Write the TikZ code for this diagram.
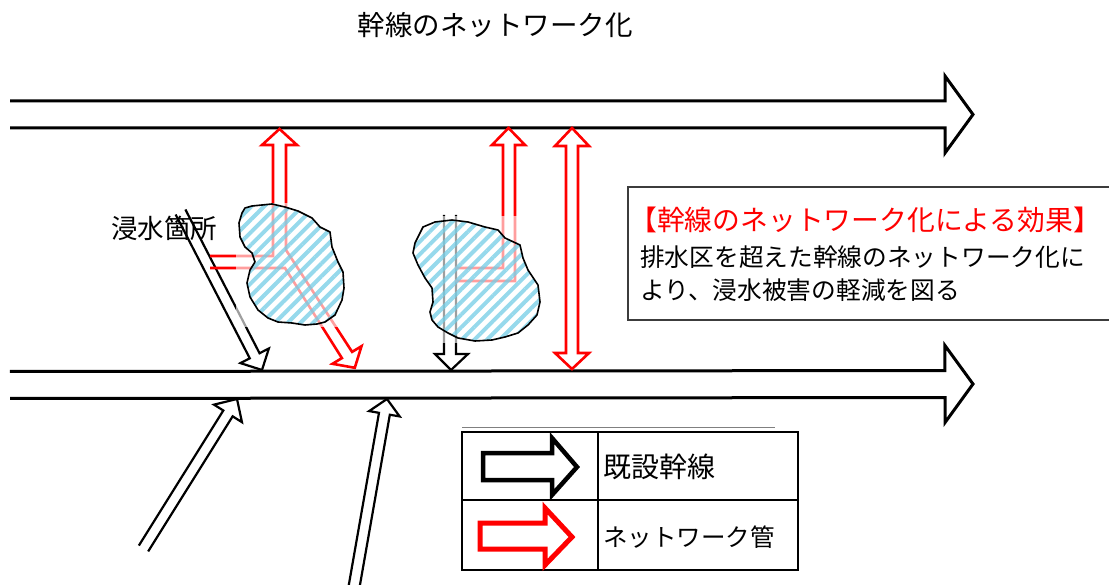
\documentclass[tikz,border=0pt]{standalone}
\usepackage{fontspec}
\newfontfamily\jp{Noto Sans CJK JP}
\usetikzlibrary{calc,patterns.meta}
\definecolor{hatch}{RGB}{115,205,230}
\definecolor{boxgray}{RGB}{60,60,60}
\newcommand{\blockarrow}[6][]{%
  \coordinate (bb) at ($(#3)!#6!(#2)$);
  \draw[#1] ($(#2)!#4!90:(#3)$) -- ($(bb)!#4!90:(#3)$) -- ($(bb)!#5!90:(#3)$) -- (#3)
    -- ($(bb)!#5!-90:(#3)$) -- ($(bb)!#4!-90:(#3)$) -- ($(#2)!#4!-90:(#3)$);
}
\tikzset{
  trunk/.style={draw=black, line width=3pt, line join=miter},
  netpipe/.style={draw=red, line width=2.6pt, line join=miter},
  flowarrow/.style={draw=black, line width=2.2pt, line join=miter},
  fadebox/.style={fill=white, fill opacity=0.62, draw=none},
  floodfill/.style={pattern={Lines[angle=45,distance=9pt,line width=4pt]}, pattern color=hatch, opacity=0.75},
  floodline/.style={draw=black, line width=1.6pt, line join=round},
  grid/.style={draw=black, line width=2.5pt},
  label/.style={font=\jp, inner sep=0pt},
}
\begin{document}
\begin{tikzpicture}[x=1pt,y=-1pt]
\useasboundingbox (0,0) rectangle (1109,585);

% title
\node[label, font=\jp\fontsize{27.5}{30}\selectfont] (title) at (495,25) {幹線のネットワーク化};

% trunk lines
\coordinate (t1tail) at (10,114.5); \coordinate (t1tip) at (973,114.5);
\coordinate (t2tail) at (10,385);   \coordinate (t2tip) at (973,384);
\blockarrow[trunk]{t1tail}{t1tip}{13.5pt}{38.5pt}{28pt}
\blockarrow[trunk]{t2tail}{t2tip}{13.5pt}{38.5pt}{28pt}

% incoming arrows from below
\coordinate (aTail) at (143.5,548.5); \coordinate (aTip) at (237,399);
\coordinate (bTail) at (353.5,590);   \coordinate (bTip) at (387,399);
\blockarrow[flowarrow]{aTail}{aTip}{5.5pt}{16.5pt}{17pt}
\blockarrow[flowarrow]{bTail}{bTip}{5.5pt}{15.5pt}{15pt}

% flooded-point arrow
\coordinate (dTail) at (180.5,212); \coordinate (dTip) at (262,370);
\blockarrow[flowarrow]{dTail}{dTip}{5.5pt}{16pt}{16pt}

% black pipe under second flood
\coordinate (pTip) at (451,370);
\draw[flowarrow] (444,215) -- (444,354) -- (435,354) -- (pTip) -- (468,354) -- (456,354) -- (456,215);

% red network pipes
\coordinate (n1top) at (279.5,129);
\coordinate (n1tip) at (354.8,367.8);
\draw[netpipe] (210,256) -- (273,256) -- (273,145) -- (262,145) -- (n1top) -- (297,145) -- (286,145)
  -- (286,250) -- (352.1,351.9) -- (361.5,346.2) -- (n1tip) -- (332.5,363.8) -- (341.9,358.1)
  -- (285,268) -- (210,268);
\coordinate (n2top) at (508.5,128);
\draw[netpipe] (455,268) -- (503,268) -- (503,145) -- (492,145) -- (n2top) -- (525,145) -- (515,145)
  -- (515,281) -- (455,281);
\coordinate (n3top) at (572,128); \coordinate (n3bot) at (572,369);
\draw[netpipe] (566,146) -- (555,146) -- (n3top) -- (589,146) -- (578,146) -- (578,353)
  -- (589,353) -- (n3bot) -- (555,353) -- (566,353) -- cycle;

% flooded areas
\def\blobone{(245,208) -- (252,206) -- (262,205) -- (272,204) -- (285,207) -- (298,211) -- (312,218)
  -- (320,227) -- (330,232) -- (332,247) -- (338,262) -- (343,272) -- (344,288) -- (342,300)
  -- (335,315) -- (325,322) -- (317,324) -- (305,325) -- (292,323) -- (278,322) -- (268,318)
  -- (258,310) -- (250,297) -- (247,283) -- (250,270) -- (255,262) -- (252,253) -- (245,247)
  -- (240,237) -- (239,223) -- (242,213) -- cycle}
\def\blobtwo{(423,227) -- (435,222) -- (452,220) -- (468,222) -- (485,227) -- (498,230) -- (505,238)
  -- (520,245) -- (523,258) -- (528,270) -- (538,285) -- (540,302) -- (537,315) -- (528,325)
  -- (518,333) -- (505,337) -- (492,340) -- (475,341) -- (458,338) -- (448,333) -- (438,327)
  -- (432,320) -- (430,312) -- (433,302) -- (432,288) -- (425,278) -- (418,265) -- (413,253)
  -- (415,243) -- (420,233) -- cycle}
\fill[fadebox] (236,203) rectangle (345,327);
\fill[fadebox] (415,216) rectangle (540,343);
\path[floodfill] \blobone;
\path[floodfill] \blobtwo;
\draw[floodline] \blobone;
\draw[floodline] \blobtwo;

\node[label, anchor=west, font=\jp\fontsize{26.5}{28}\selectfont] (flood) at (111,228) {浸水箇所};

% effect box
\draw[boxgray, line width=1.2pt] (1109,187) -- (628,187) -- (628,320) -- (1109,320);
\node[label, anchor=west, text=red, font=\jp\fontsize{27.8}{30}\selectfont] (effhead) at (629,220) {【幹線のネットワーク化による効果】};
\node[label, anchor=west, font=\jp\fontsize{24.7}{28}\selectfont] (eff1) at (640,257) {排水区を超えた幹線のネットワーク化に};
\node[label, anchor=west, font=\jp\fontsize{24.7}{28}\selectfont] (eff2) at (640,290) {より、浸水被害の軽減を図る};

% legend
\draw[gray, line width=0.8pt] (462,427) -- (775,427);
\draw[grid] (462,432) rectangle (798,570);
\draw[grid] (462,500) -- (798,500);
\draw[grid] (598,432) -- (598,570);
\draw[black, line width=4.5pt, line join=miter] (483,453) -- (552,453) -- (552,438) -- (577,467) -- (552,495) -- (552,480) -- (483,480) -- cycle;
\draw[red, line width=5pt, line join=miter] (480,523) -- (545,523) -- (545,508) -- (572,537) -- (545,565) -- (545,549) -- (480,549) -- cycle;
\node[label, anchor=west, font=\jp\fontsize{28}{30}\selectfont] (leg1) at (603,467) {既設幹線};
\node[label, anchor=west, font=\jp\fontsize{24.5}{30}\selectfont] (leg2) at (603,537) {ネットワーク管};
\end{tikzpicture}
\end{document}
